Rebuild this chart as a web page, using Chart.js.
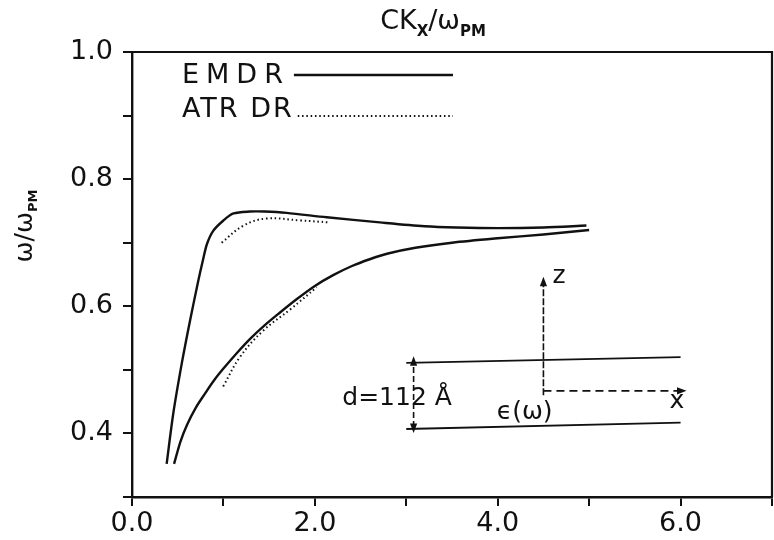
<!DOCTYPE html>
<html>
<head>
<meta charset="utf-8">
<script src="https://cdn.jsdelivr.net/npm/chart.js@4/dist/chart.umd.min.js"></script>
<style>
  html, body { margin: 0; padding: 0; background: #fff; }
  #wrap { width: 774px; height: 540px; position: relative; }
  canvas { display: block; }
</style>
</head>
<body>
<div id="wrap"><canvas id="c" width="774" height="540"></canvas></div>
<script>
// ---------------- data ----------------
const xTickValues = [0, 2, 4, 6];
const xTickLabels = ['0.0', '2.0', '4.0', '6.0'];
const yTickValues = [0.4, 0.6, 0.8, 1.0];
const yTickLabels = ['0.4', '0.6', '0.8', '1.0'];

const seriesNames = ['EMDR', 'ATR DR'];

// EMDR (solid) upper branch
const emdrUpperX = [0.379, 0.451, 0.543, 0.634, 0.725, 0.775, 0.82, 0.89, 1.00, 1.11, 1.29, 1.45, 1.69, 2.13, 2.71, 3.20, 3.55, 4.00, 4.50, 4.97];
const emdrUpperY = [0.352, 0.431, 0.509, 0.577, 0.640, 0.672, 0.698, 0.719, 0.735, 0.746, 0.749, 0.749, 0.747, 0.740, 0.732, 0.726, 0.724, 0.723, 0.724, 0.727];
// EMDR (solid) lower branch
const emdrLowerX = [0.46, 0.53, 0.60, 0.70, 0.80, 0.90, 1.00, 1.15, 1.30, 1.45, 1.60, 1.80, 2.00, 2.20, 2.40, 2.60, 2.80, 3.10, 3.50, 4.00, 4.50, 5.00];
const emdrLowerY = [0.352, 0.387, 0.413, 0.441, 0.463, 0.484, 0.502, 0.527, 0.550, 0.570, 0.588, 0.611, 0.632, 0.649, 0.663, 0.674, 0.683, 0.692, 0.700, 0.707, 0.713, 0.720];
// ATR DR (dotted) upper branch
const atrUpperX = [0.98, 1.22, 1.47, 1.84, 2.16];
const atrUpperY = [0.700, 0.727, 0.738, 0.735, 0.732];
// ATR DR (dotted) lower branch
const atrLowerX = [0.997, 1.18, 1.43, 1.73, 2.02];
const atrLowerY = [0.474, 0.520, 0.561, 0.595, 0.630];

// inset sketch of the film geometry (data coordinates)
const layerTopX = [3.0, 6.0],    layerTopY = [0.511, 0.520];
const layerBottomX = [3.0, 6.0], layerBottomY = [0.407, 0.417];
const zAxisX = [4.5, 4.5],       zAxisY = [0.460, 0.637];
const xAxisX = [4.5, 6.0],       xAxisY = [0.467, 0.467];
const dArrowX = [3.08, 3.08],    dArrowY = [0.410, 0.512];
const insetTexts = ['d=112 Å', 'ϵ(ω)', 'z', 'x'];
const insetTextX = [2.30, 3.99, 4.60, 5.88];
const insetTextY = [0.444, 0.423, 0.636, 0.440];

// ---------------- helpers ----------------
const FONT = '"DejaVu Sans", "Liberation Sans", sans-serif';
const zip = (xs, ys) => xs.map((x, i) => ({ x: x, y: ys[i] }));

function lineDs(xs, ys, opts) {
  return Object.assign({
    data: zip(xs, ys),
    showLine: true,
    pointRadius: 0,
    borderColor: '#111',
    borderWidth: 2.4,
    fill: false,
    tension: 0.3
  }, opts);
}

const datasets = [
  lineDs(emdrUpperX, emdrUpperY, { label: seriesNames[0] }),
  lineDs(emdrLowerX, emdrLowerY, { label: seriesNames[0] }),
  lineDs(atrUpperX, atrUpperY, { label: seriesNames[1], borderWidth: 2, borderDash: [1.5, 2.8], tension: 0.4 }),
  lineDs(atrLowerX, atrLowerY, { label: seriesNames[1], borderWidth: 2, borderDash: [1.5, 2.8], tension: 0.4 }),
  lineDs(layerTopX, layerTopY, { label: 'inset', borderWidth: 1.8, tension: 0 }),
  lineDs(layerBottomX, layerBottomY, { label: 'inset', borderWidth: 1.8, tension: 0 }),
  lineDs(zAxisX, zAxisY, { label: 'inset', borderWidth: 1.6, borderDash: [7, 2], tension: 0 }),
  lineDs(xAxisX, xAxisY, { label: 'inset', borderWidth: 1.6, borderDash: [8, 5], tension: 0 }),
  lineDs(dArrowX, dArrowY, { label: 'inset', borderWidth: 1.6, borderDash: [6, 3], tension: 0 })
];

function near(v, list) { return list.findIndex(t => Math.abs(t - v) < 1e-6); }

// ---------------- plugins ----------------
function triangle(ctx, x, y, dir, s) {
  ctx.save();
  ctx.translate(x, y);
  ctx.rotate(dir);
  ctx.beginPath();
  ctx.moveTo(s, 0);
  ctx.lineTo(-s * 0.6, -s * 0.6);
  ctx.lineTo(-s * 0.6, s * 0.6);
  ctx.closePath();
  ctx.fill();
  ctx.restore();
}

const decor = {
  id: 'decor',
  afterDatasetsDraw(chart) {
    const ctx = chart.ctx;
    const a = chart.chartArea;
    const xs = chart.scales.x, ys = chart.scales.y;
    const px = v => xs.getPixelForValue(v), py = v => ys.getPixelForValue(v);
    ctx.save();
    ctx.fillStyle = '#111';
    ctx.strokeStyle = '#111';

    // frame top & right
    ctx.lineWidth = 2.2;
    ctx.beginPath();
    ctx.moveTo(a.left, a.top);
    ctx.lineTo(a.right, a.top);
    ctx.lineTo(a.right, a.bottom);
    ctx.stroke();

    // arrow heads of the inset
    triangle(ctx, px(zAxisX[1]), py(zAxisY[1]), -Math.PI / 2, 6);
    triangle(ctx, px(xAxisX[1]), py(xAxisY[1]), 0, 6);
    triangle(ctx, px(dArrowX[1]), py(dArrowY[1]), -Math.PI / 2, 6);
    triangle(ctx, px(dArrowX[0]), py(dArrowY[0]), Math.PI / 2, 6);

    // inset texts
    ctx.textBaseline = 'alphabetic';
    ctx.textAlign = 'left';
    ctx.font = '25px ' + FONT;
    insetTexts.forEach((t, i) => {
      ctx.fillText(t, px(insetTextX[i]), py(insetTextY[i]));
    });

    // legend
    ctx.font = '27px ' + FONT;
    ctx.textBaseline = 'middle';
    const lx = a.left + 50;
    const lineEnd = a.left + 321;
    const rows = [{ y: a.top + 24, dash: [], w: 2.4, sp: '7px' },
                  { y: a.top + 58, dash: [1.5, 2.8], w: 2, sp: '2px' }];
    seriesNames.forEach((name, i) => {
      const r = rows[i];
      ctx.letterSpacing = r.sp;
      ctx.fillText(name, lx, r.y);
      const w = ctx.measureText(name).width;
      ctx.letterSpacing = '0px';
      ctx.lineWidth = r.w;
      ctx.setLineDash(r.dash);
      ctx.beginPath();
      const ly = r.y + (i === 0 ? -1 : 6);
      ctx.moveTo(lx + w + 4, ly);
      ctx.lineTo(lineEnd, ly);
      ctx.stroke();
      ctx.setLineDash([]);
    });

    // title  CKx/ωPM
    ctx.textBaseline = 'alphabetic';
    const big = '27px ' + FONT, sub = 'bold 15px ' + FONT;
    const parts = [['CK', big, 0], ['X', sub, 7], ['/ω', big, 0], ['PM', sub, 7]];
    let tw = 0;
    parts.forEach(p => { ctx.font = p[1]; tw += ctx.measureText(p[0]).width; });
    let tx = 433 - tw / 2;
    const tb = 29;
    parts.forEach(p => {
      ctx.font = p[1];
      ctx.fillText(p[0], tx, tb + p[2]);
      tx += ctx.measureText(p[0]).width;
    });

    // y axis title  ω/ωPM (rotated)
    ctx.save();
    ctx.translate(32, 226);
    ctx.rotate(-Math.PI / 2);
    const yb = '25px ' + FONT, ys2 = 'bold 13px ' + FONT;
    const yparts = [['ω/ω', yb, 0], ['PM', ys2, 5]];
    let yw = 0;
    yparts.forEach(p => { ctx.font = p[1]; yw += ctx.measureText(p[0]).width; });
    let yx = -yw / 2;
    yparts.forEach(p => {
      ctx.font = p[1];
      ctx.fillText(p[0], yx, p[2]);
      yx += ctx.measureText(p[0]).width;
    });
    ctx.restore();

    ctx.restore();
  }
};

// ---------------- chart ----------------
new Chart(document.getElementById('c'), {
  type: 'scatter',
  data: { datasets: datasets },
  plugins: [decor],
  options: {
    responsive: false,
    animation: false,
    events: [],
    layout: { padding: { top: 52, right: 2, left: 0, bottom: 0 } },
    plugins: { legend: { display: false }, tooltip: { enabled: false }, title: { display: false } },
    scales: {
      x: {
        type: 'linear', min: 0, max: 7,
        afterFit: s => { s.height = 43; },
        ticks: {
          stepSize: 1, autoSkip: false, maxRotation: 0, padding: 2,
          color: '#111', font: { family: FONT, size: 27 },
          callback: v => { const i = near(v, xTickValues); return i >= 0 ? xTickLabels[i] : ''; }
        },
        grid: { display: true, drawOnChartArea: false, drawTicks: true, tickLength: 9, color: '#111', lineWidth: 2 },
        border: { display: true, color: '#111', width: 2.4 }
      },
      y: {
        type: 'linear', min: 0.3, max: 1.0,
        afterFit: s => { s.width = 132; },
        ticks: {
          stepSize: 0.1, autoSkip: false, padding: 10,
          color: '#111', font: { family: FONT, size: 27 },
          callback: v => { const i = near(v, yTickValues); return i >= 0 ? yTickLabels[i] : ''; }
        },
        grid: { display: true, drawOnChartArea: false, drawTicks: true, tickLength: 9, color: '#111', lineWidth: 2 },
        border: { display: true, color: '#111', width: 2.4 }
      }
    }
  }
});
</script>
</body>
</html>
